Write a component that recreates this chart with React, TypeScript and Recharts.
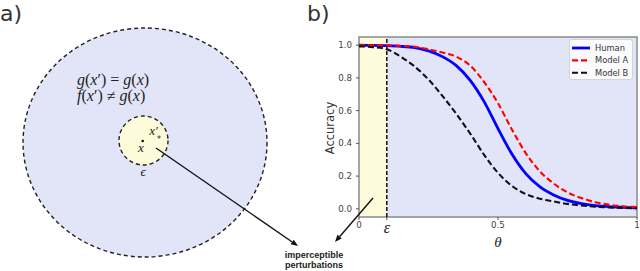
import React from 'react';
import {
  ComposedChart,
  Line,
  XAxis,
  YAxis,
  ReferenceArea,
  ReferenceLine,
  Legend,
  Customized,
} from 'recharts';

// ---------- data ----------
const THETA = [0, 0.05, 0.1, 0.15, 0.2, 0.25, 0.3, 0.35, 0.4, 0.45, 0.5, 0.55, 0.6, 0.65, 0.7, 0.75, 0.8, 0.85, 0.9, 0.95, 1.0];
const HUMAN = [1.0, 0.999, 0.997, 0.993, 0.985, 0.965, 0.93, 0.875, 0.785, 0.655, 0.49, 0.335, 0.215, 0.135, 0.085, 0.052, 0.032, 0.02, 0.013, 0.009, 0.006];
const MODEL_A = [1.0, 1.0, 0.999, 0.996, 0.99, 0.975, 0.955, 0.93, 0.875, 0.775, 0.645, 0.485, 0.34, 0.23, 0.155, 0.1, 0.066, 0.04, 0.025, 0.015, 0.01];
const MODEL_B = [0.993, 0.988, 0.975, 0.93, 0.87, 0.79, 0.69, 0.58, 0.46, 0.33, 0.22, 0.14, 0.09, 0.062, 0.045, 0.03, 0.02, 0.013, 0.008, 0.005, 0.003];
const SERIES_NAMES = ['Human', 'Model A', 'Model B'];
const X_TICKS = [0, 0.1, 0.5, 1];
const Y_TICKS = [0, 0.2, 0.4, 0.6, 0.8, 1.0];
const EPSILON = 0.1;

const data = THETA.map((t, i) => ({ theta: t, human: HUMAN[i], modelA: MODEL_A[i], modelB: MODEL_B[i] }));

const SANS = '"DejaVu Sans", sans-serif';
const SERIF = '"Liberation Serif", "DejaVu Serif", serif';
const LAVENDER = '#e2e4f7';
const YELLOW = '#fdfbda';

const SERIES = [
  { key: 'human', name: SERIES_NAMES[0], color: '#0000ff', dash: undefined as string | undefined, width: 2.8 },
  { key: 'modelA', name: SERIES_NAMES[1], color: '#ff0000', dash: '6 3', width: 2.1 },
  { key: 'modelB', name: SERIES_NAMES[2], color: '#111111', dash: '6 3', width: 2.1 },
];

const XTick = (props: any) => {
  const { x, y, payload } = props;
  if (payload.value === EPSILON) {
    return (
      <text x={x} y={y + 11} textAnchor="middle" fontFamily={SERIF} fontStyle="italic" fontSize={16} fill="#222">
        ε
      </text>
    );
  }
  return (
    <text x={x} y={y} dy="0.71em" textAnchor="middle" fontFamily={SANS} fontSize={8.7} fill="#444">
      {String(payload.value)}
    </text>
  );
};

const YTick = (props: any) => {
  const { x, y, payload } = props;
  return (
    <text x={x} y={y} dy="0.355em" textAnchor="end" fontFamily={SANS} fontSize={8.7} fill="#444">
      {Number(payload.value).toFixed(1)}
    </text>
  );
};

const LegendBox = () => (
  <div
    style={{
      width: 64,
      height: 41,
      background: 'rgba(255,255,255,0.85)',
      border: '1px solid #d4d4d4',
      borderRadius: 3,
      boxSizing: 'border-box',
    }}
  >
    <svg width={62} height={39} style={{ display: 'block' }}>
      {SERIES.map((s, i) => (
        <g key={s.key}>
          <line
            x1={2}
            x2={20}
            y1={8 + i * 12.4}
            y2={8 + i * 12.4}
            stroke={s.color}
            strokeWidth={s.width}
            strokeDasharray={s.dash}
          />
          <text x={25} y={8 + i * 12.4} dy="0.355em" fontFamily={SANS} fontSize={8.3} fill="#333">
            {s.name}
          </text>
        </g>
      ))}
    </svg>
  </div>
);

const Arrow = ({ x1, y1, x2, y2 }: { x1: number; y1: number; x2: number; y2: number }) => {
  const ang = Math.atan2(y2 - y1, x2 - x1);
  const L = 7;
  const W = 2.8;
  const bx = x2 - L * Math.cos(ang);
  const by = y2 - L * Math.sin(ang);
  const px = -Math.sin(ang) * W;
  const py = Math.cos(ang) * W;
  return (
    <g>
      <line x1={x1} y1={y1} x2={bx} y2={by} stroke="#111" strokeWidth={1.4} />
      <polygon points={`${x2},${y2} ${bx + px},${by + py} ${bx - px},${by - py}`} fill="#111" />
    </g>
  );
};

const Diagram = () => (
  <g>
    <text x={0} y={21} fontSize={22} fontFamily={SANS} fill="#333">a)</text>
    <text x={307} y={21} fontSize={22} fontFamily={SANS} fill="#333">b)</text>

    <ellipse cx={145} cy={142.5} rx={122} ry={114.5} fill={LAVENDER} stroke="#222" strokeWidth={1.4} strokeDasharray="4 3" />
    <circle cx={143.5} cy={140.5} r={24.5} fill={YELLOW} stroke="#222" strokeWidth={1.4} strokeDasharray="4 3" />

    <text x={77} y={85} fontFamily={SERIF} fontSize={16} fill="#222">
      <tspan fontStyle="italic">g</tspan>(<tspan fontStyle="italic">x</tspan>′) = <tspan fontStyle="italic">g</tspan>(<tspan fontStyle="italic">x</tspan>)
    </text>
    <text x={77} y={101} fontFamily={SERIF} fontSize={16} fill="#222">
      <tspan fontStyle="italic">f</tspan>(<tspan fontStyle="italic">x</tspan>′) ≠ <tspan fontStyle="italic">g</tspan>(<tspan fontStyle="italic">x</tspan>)
    </text>

    <circle cx={142.7} cy={141} r={1.3} fill="#111" />
    <text x={141} y={152} textAnchor="middle" fontFamily={SERIF} fontStyle="italic" fontSize={13} fill="#222">x</text>
    <text x={153.5} y={135} textAnchor="middle" fontFamily={SERIF} fontStyle="italic" fontSize={13} fill="#222">x′</text>
    <text x={159} y={142} textAnchor="middle" fontFamily={SANS} fontSize={8} fill="#222">*</text>
    <text x={143} y={176} textAnchor="middle" fontFamily={SERIF} fontStyle="italic" fontSize={13} fill="#222">ϵ</text>

    <Arrow x1={156} y1={148} x2={298} y2={246} />

    <text x={314} y={258} textAnchor="middle" fontFamily='"Liberation Sans", sans-serif' fontWeight="bold" fontSize={9} fill="#222">imperceptible</text>
    <text x={314} y={268} textAnchor="middle" fontFamily='"Liberation Sans", sans-serif' fontWeight="bold" fontSize={9} fill="#222">perturbations</text>

    <text x={498} y={247} textAnchor="middle" fontFamily={SERIF} fontStyle="italic" fontSize={15} fill="#222">θ</text>
    <text
      x={334}
      y={128}
      textAnchor="middle"
      fontFamily={SANS}
      fontSize={11.5}
      fill="#333"
      transform="rotate(-90 334 128)"
    >
      Accuracy
    </text>
  </g>
);

export default function App() {
  return (
    <div style={{ position: 'absolute', left: 0, top: 0, width: 640, height: 271, background: '#fff' }}>
      <ComposedChart width={640} height={271} data={data} margin={{ top: 37, right: 3, bottom: 34, left: 319 }}>
        <XAxis
          dataKey="theta"
          type="number"
          domain={[0, 1]}
          ticks={X_TICKS}
          height={20}
          axisLine={false}
          tickSize={3}
          tickMargin={2}
          tickLine={{ stroke: '#555' }}
          tick={<XTick />}
          interval={0}
        />
        <YAxis
          type="number"
          domain={[-0.05, 1.05]}
          ticks={Y_TICKS}
          width={40}
          axisLine={false}
          tickSize={3}
          tickMargin={4}
          tickLine={{ stroke: '#555' }}
          tick={<YTick />}
          interval={0}
          allowDataOverflow
        />
        <ReferenceArea x1={0} x2={1} y1={-0.05} y2={1.05} fill={LAVENDER} fillOpacity={1} stroke="none" />
        <ReferenceArea x1={0} x2={EPSILON} y1={-0.05} y2={1.05} fill={YELLOW} fillOpacity={1} stroke="none" />
        <ReferenceLine x={EPSILON} stroke="#111" strokeWidth={1.5} strokeDasharray="4 2" />
        {SERIES.map((s) => (
          <Line
            key={s.key}
            dataKey={s.key}
            name={s.name}
            type="monotone"
            stroke={s.color}
            strokeWidth={s.width}
            strokeDasharray={s.dash}
            dot={false}
            activeDot={false}
            isAnimationActive={false}
          />
        ))}
        <ReferenceArea x1={0} x2={1} y1={-0.05} y2={1.05} fill="none" stroke="#8a8a8a" strokeWidth={1.5} />
        <Legend
          layout="vertical"
          align="center"
          verticalAlign="middle"
          content={<LegendBox />}
          wrapperStyle={{ left: 569, top: 39, width: 64, height: 41 }}
        />
        <Customized component={<Diagram />} />
      </ComposedChart>
      <svg
        width={640}
        height={271}
        style={{ position: 'absolute', left: 0, top: 0, pointerEvents: 'none' }}
      >
        <Arrow x1={373} y1={198} x2={335} y2={242} />
      </svg>
    </div>
  );
}
